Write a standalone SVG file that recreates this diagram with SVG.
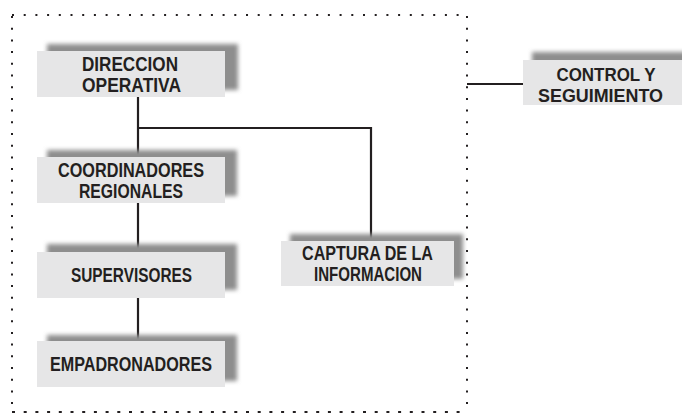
<svg xmlns="http://www.w3.org/2000/svg" width="682" height="414" viewBox="0 0 682 414">
<defs>
<filter id="blur" x="-20%" y="-40%" width="140%" height="180%"><feGaussianBlur stdDeviation="2.2"/></filter>
<style>
.sh{fill:#8e8e8e;filter:url(#blur)}
.bx{fill:#e6e6e7}
.t{font-family:"Liberation Sans",Arial,sans-serif;font-weight:bold;font-size:19.5px;fill:#231f20;text-anchor:middle}
.c{stroke:#231f20;stroke-width:2.2;fill:none}
.dot{stroke:#231f20;stroke-width:2;fill:none}
</style>
</defs>
<rect width="682" height="414" fill="#fff"/>
<g id="frame">
<line class="dot" x1="12" y1="15" x2="467" y2="15" stroke-dasharray="2 9.7"/>
<line class="dot" x1="12" y1="16" x2="12" y2="412" stroke-dasharray="2 9.7"/>
<line class="dot" x1="467" y1="16" x2="467" y2="412" stroke-dasharray="2 9.7"/>
<line class="dot" x1="12" y1="412" x2="467" y2="412" stroke-dasharray="3 8.7"/>
</g>
<g id="connectors">
<polyline class="c" points="138,97 138,157"/>
<polyline class="c" points="138,128 371,128 371,241"/>
<polyline class="c" points="138,203 138,252"/>
<polyline class="c" points="138,297 138,341"/>
<polyline class="c" points="467,84 523,84"/>
</g>
<g id="direccion">
<rect class="sh" x="47" y="44" width="191" height="46"/>
<rect class="bx" x="37" y="51" width="188" height="46"/>
<text class="t" x="130" y="70.5" textLength="96" lengthAdjust="spacingAndGlyphs">DIRECCION</text>
<text class="t" x="131.5" y="92" textLength="99" lengthAdjust="spacingAndGlyphs">OPERATIVA</text>
</g>
<g id="coordinadores">
<rect class="sh" x="47" y="150" width="190" height="46"/>
<rect class="bx" x="37" y="157" width="188" height="46"/>
<text class="t" x="131" y="177" textLength="146" lengthAdjust="spacingAndGlyphs">COORDINADORES</text>
<text class="t" x="131" y="198" textLength="104" lengthAdjust="spacingAndGlyphs">REGIONALES</text>
</g>
<g id="supervisores">
<rect class="sh" x="47" y="244" width="190" height="46"/>
<rect class="bx" x="37" y="252" width="188" height="46"/>
<text class="t" x="131.5" y="282" textLength="121" lengthAdjust="spacingAndGlyphs">SUPERVISORES</text>
</g>
<g id="empadronadores">
<rect class="sh" x="47" y="335" width="190" height="46"/>
<rect class="bx" x="37" y="341" width="188" height="46"/>
<text class="t" x="131" y="371" textLength="162" lengthAdjust="spacingAndGlyphs">EMPADRONADORES</text>
</g>
<g id="captura">
<rect class="sh" x="290" y="234" width="173" height="45"/>
<rect class="bx" x="281" y="241" width="173" height="45"/>
<text class="t" x="367.5" y="259.5" textLength="131" lengthAdjust="spacingAndGlyphs">CAPTURA DE LA</text>
<text class="t" x="368" y="280.5" textLength="108" lengthAdjust="spacingAndGlyphs">INFORMACION</text>
</g>
<g id="control">
<rect class="sh" x="532" y="52" width="160" height="46"/>
<rect class="bx" x="523" y="60" width="159" height="45"/>
<text class="t" x="606" y="80.5" textLength="99" lengthAdjust="spacingAndGlyphs" style="font-size:19px">CONTROL Y</text>
<text class="t" x="600.5" y="101.5" textLength="125" lengthAdjust="spacingAndGlyphs" style="font-size:19px">SEGUIMIENTO</text>
</g>
</svg>
